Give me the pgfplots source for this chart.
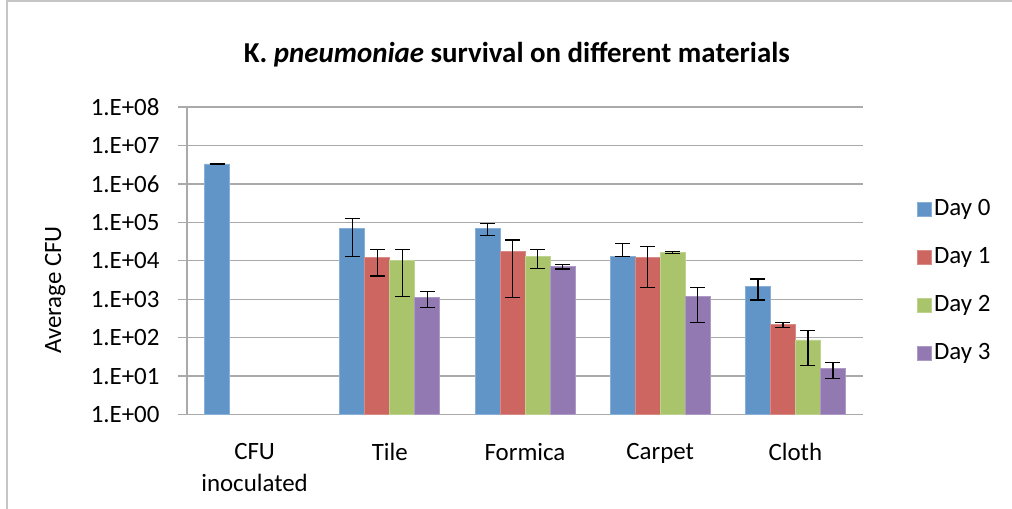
\documentclass[border=0pt]{standalone}
\usepackage{pgfplots}
\pgfplotsset{compat=1.18}
\usepackage{fontspec}
\setmainfont{Carlito}
\definecolor{c0}{RGB}{97,149,200}
\definecolor{c1}{RGB}{205,101,96}
\definecolor{c2}{RGB}{170,196,108}
\definecolor{c3}{RGB}{146,121,178}
\definecolor{gridc}{RGB}{170,170,170}
\begin{document}
\begin{tikzpicture}[x=1bp,y=1bp]
\useasboundingbox (0,0) rectangle (1012,509);
\draw[color=gray!45, line width=1.5bp] (7,0) -- (7,508) -- (1012,508);
\begin{axis}[
  at={(187bp,94.5bp)}, anchor=south west,
  scale only axis, width=676bp, height=307.5bp,
  ymode=log, ymin=1, ymax=1e8,
  xmin=-0.5, xmax=4.5,
  axis lines*=left,
  axis line style={gridc, line width=1.3bp},
  xtick={0,1,2,3,4},
  xticklabels={{CFU\\inoculated},Tile,Formica,Carpet,Cloth},
  xticklabel style={align=center, font=\fontsize{25}{32}\selectfont, yshift=-16bp},
  major x tick style={draw=none},
  ytick={1,10,100,1000,10000,100000,1000000,10000000,100000000},
  yticklabels={1.E+00,1.E+01,1.E+02,1.E+03,1.E+04,1.E+05,1.E+06,1.E+07,1.E+08},
  yticklabel style={font=\fontsize{25}{30}\selectfont, xshift=-15bp},
  yminorticks=false,
  tick align=outside, major tick length=9bp,
  major y tick style={gridc, line width=1.3bp},
  ymajorgrids, grid style={gridc, line width=1.3bp},
  ylabel={Average CFU},
  every axis y label/.style={at={(axis description cs:-0.195,0.405)}, rotate=90, anchor=center, font=\fontsize{25}{30}\selectfont},
  title={K. \textit{pneumoniae} survival on different materials},
  title style={font=\bfseries\fontsize{29}{34}\selectfont, at={(axis description cs:0.488,1.15)}, anchor=center},
  ybar=0pt, bar width=25bp,
  error bars/y dir=both, error bars/y explicit,
  error bars/error bar style={black, line width=1.2bp},
  error bars/error mark options={rotate=90, mark size=7.5bp, line width=1.2bp, black},
  legend style={at={(axis description cs:1.08,0.71)}, anchor=north west, draw=none, fill=none,
    font=\fontsize{25}{30}\selectfont, inner sep=0pt, row sep=22bp,
    nodes={text height=17bp, text depth=5bp, inner sep=2bp},
    /tikz/every even column/.append style={column sep=5bp}},
  legend cell align=left,
  legend image code/.code={\fill[#1] (0bp,-7bp) rectangle (14bp,7bp);},
]
\addplot[fill=c0, draw=c0!75!white, line width=0.8bp] coordinates {
  (0,3.3e6) +- (0,5e4)
  (1,6.8e4) +- (0,5.5e4)
  (2,6.8e4) +- (0,2.3e4)
  (3,1.32e4) += (0,1.45e4) -= (0,100)
  (4,2.15e3) +- (0,1.2e3)
};
\addplot[fill=c1, draw=c1!75!white, line width=0.8bp] coordinates {
  (1,1.2e4) +- (0,8e3)
  (2,1.78e4) +- (0,1.67e4)
  (3,1.25e4) +- (0,1.05e4)
  (4,215) +- (0,30)
};
\addplot[fill=c2, draw=c2!75!white, line width=0.8bp] coordinates {
  (1,1.02e4) +- (0,9e3)
  (2,1.32e4) +- (0,6.8e3)
  (3,1.66e4) +- (0,1e3)
  (4,87) +- (0,68)
};
\addplot[fill=c3, draw=c3!75!white, line width=0.8bp] coordinates {
  (1,1.12e3) +- (0,5e2)
  (2,7.1e3) +- (0,1e3)
  (3,1.15e3) +- (0,9e2)
  (4,15.8) +- (0,7)
};
\legend{Day 0, Day 1, Day 2, Day 3}
\end{axis}
\end{tikzpicture}
\end{document}
